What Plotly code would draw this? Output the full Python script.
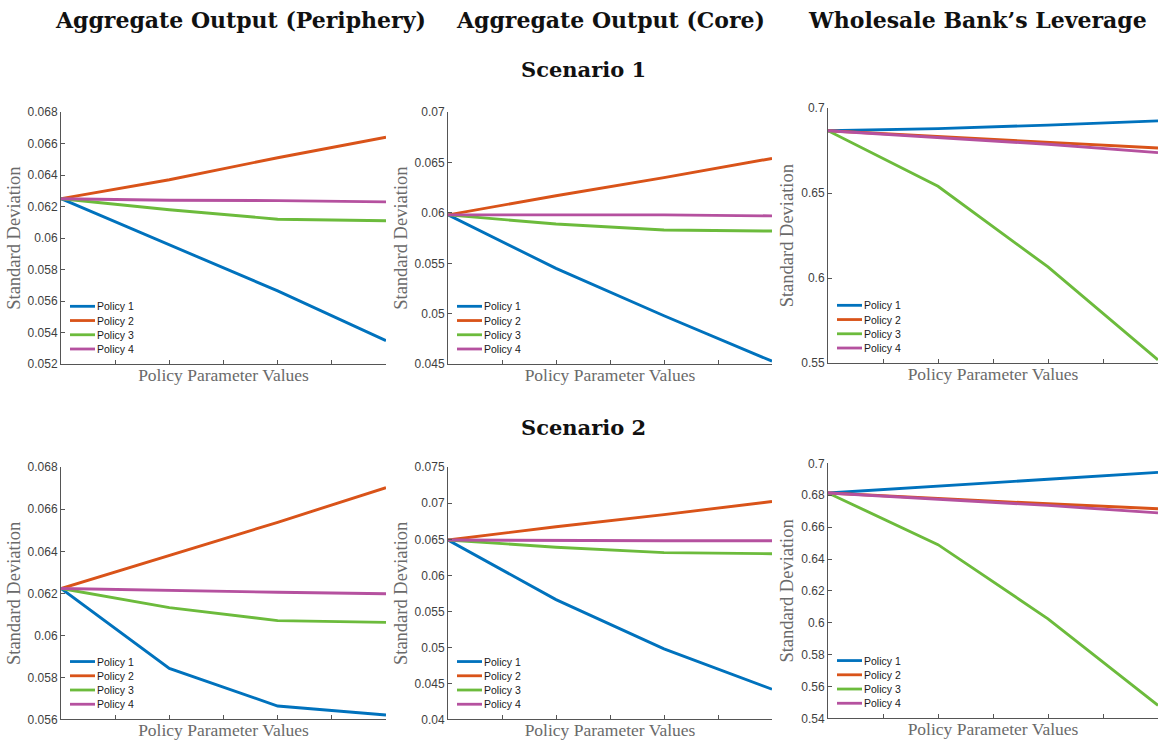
import plotly.graph_objects as go

# Policy parameter grid (four evaluated parameter values per policy)
param_values = [1, 2, 3, 4]
x_tick_positions = [1, 1.5, 2, 2.5, 3, 3.5, 4]

policy_names = ["Policy 1", "Policy 2", "Policy 3", "Policy 4"]
policy_colors = ["#0072BD", "#D95319", "#6CBB3C", "#B5519F"]

column_titles = ["Aggregate Output (Periphery)", "Aggregate Output (Core)", "Wholesale Bank\u2019s Leverage"]
row_titles = ["Scenario 1", "Scenario 2"]

# Scenario 1 — standard deviations
s1_periphery_p1 = [0.0625, 0.0596, 0.05665, 0.0535]
s1_periphery_p2 = [0.0625, 0.0637, 0.0651, 0.0664]
s1_periphery_p3 = [0.0625, 0.0618, 0.0612, 0.0611]
s1_periphery_p4 = [0.0625, 0.0624, 0.06238, 0.0623]

s1_core_p1 = [0.0598, 0.0545, 0.0498, 0.0453]
s1_core_p2 = [0.0598, 0.0617, 0.0635, 0.0654]
s1_core_p3 = [0.0598, 0.0589, 0.0583, 0.0582]
s1_core_p4 = [0.0598, 0.0598, 0.0598, 0.0597]

s1_leverage_p1 = [0.6867, 0.6879, 0.6900, 0.6925]
s1_leverage_p2 = [0.6867, 0.6833, 0.6798, 0.6765]
s1_leverage_p3 = [0.6867, 0.6540, 0.6066, 0.5520]
s1_leverage_p4 = [0.6867, 0.6827, 0.6787, 0.6738]

# Scenario 2 — standard deviations
s2_periphery_p1 = [0.06223, 0.05843, 0.05664, 0.05621]
s2_periphery_p2 = [0.06223, 0.06379, 0.06538, 0.06703]
s2_periphery_p3 = [0.06223, 0.06132, 0.06070, 0.06062]
s2_periphery_p4 = [0.06223, 0.06213, 0.06205, 0.06198]

s2_core_p1 = [0.0649, 0.05663, 0.0498, 0.0442]
s2_core_p2 = [0.0649, 0.06674, 0.06842, 0.07025]
s2_core_p3 = [0.0649, 0.0639, 0.06315, 0.0630]
s2_core_p4 = [0.0649, 0.0648, 0.0648, 0.0648]

s2_leverage_p1 = [0.6814, 0.6859, 0.6900, 0.6943]
s2_leverage_p2 = [0.6814, 0.6779, 0.6746, 0.6715]
s2_leverage_p3 = [0.6814, 0.6490, 0.6025, 0.5482]
s2_leverage_p4 = [0.6814, 0.6775, 0.6736, 0.6689]

# Y-axis ticks per panel
s1_periphery_ticks = [0.052, 0.054, 0.056, 0.058, 0.060, 0.062, 0.064, 0.066, 0.068]
s1_periphery_ticklabels = ["0.052", "0.054", "0.056", "0.058", "0.06", "0.062", "0.064", "0.066", "0.068"]
s1_core_ticks = [0.045, 0.050, 0.055, 0.060, 0.065, 0.070]
s1_core_ticklabels = ["0.045", "0.05", "0.055", "0.06", "0.065", "0.07"]
s1_leverage_ticks = [0.55, 0.60, 0.65, 0.70]
s1_leverage_ticklabels = ["0.55", "0.6", "0.65", "0.7"]

s2_periphery_ticks = [0.056, 0.058, 0.060, 0.062, 0.064, 0.066, 0.068]
s2_periphery_ticklabels = ["0.056", "0.058", "0.06", "0.062", "0.064", "0.066", "0.068"]
s2_core_ticks = [0.040, 0.045, 0.050, 0.055, 0.060, 0.065, 0.070, 0.075]
s2_core_ticklabels = ["0.04", "0.045", "0.05", "0.055", "0.06", "0.065", "0.07", "0.075"]
s2_leverage_ticks = [0.54, 0.56, 0.58, 0.60, 0.62, 0.64, 0.66, 0.68, 0.70]
s2_leverage_ticklabels = ["0.54", "0.56", "0.58", "0.6", "0.62", "0.64", "0.66", "0.68", "0.7"]

panels = [
    # (series, ticks, ticklabels)
    ([s1_periphery_p1, s1_periphery_p2, s1_periphery_p3, s1_periphery_p4], s1_periphery_ticks, s1_periphery_ticklabels),
    ([s1_core_p1, s1_core_p2, s1_core_p3, s1_core_p4], s1_core_ticks, s1_core_ticklabels),
    ([s1_leverage_p1, s1_leverage_p2, s1_leverage_p3, s1_leverage_p4], s1_leverage_ticks, s1_leverage_ticklabels),
    ([s2_periphery_p1, s2_periphery_p2, s2_periphery_p3, s2_periphery_p4], s2_periphery_ticks, s2_periphery_ticklabels),
    ([s2_core_p1, s2_core_p2, s2_core_p3, s2_core_p4], s2_core_ticks, s2_core_ticklabels),
    ([s2_leverage_p1, s2_leverage_p2, s2_leverage_p3, s2_leverage_p4], s2_leverage_ticks, s2_leverage_ticklabels),
]

W, H = 1159, 750

# Pixel boxes of each axes area: (left, right) per column, (top, bottom) per row/column
col_px = [(61, 386), (448, 772), (828, 1158)]
row_px = [[(107, 364), (107, 364), (103, 363)],
          [(469, 726), (469, 726), (465, 725)]]

AXIS_COLOR = "#555555"
TICK_FONT = dict(family="Liberation Sans, Arial, sans-serif", size=12, color="#3f3f3f")
LABEL_FONT = dict(family="Liberation Serif, Times New Roman, serif", size=17.5, color="#6a6a6a")
YLABEL_FONT = dict(family="Liberation Serif, Times New Roman, serif", size=18.5, color="#6a6a6a")
TITLE_FONT = dict(family="DejaVu Serif, serif", size=22, color="#111111")
SCEN_FONT = dict(family="DejaVu Serif, serif", size=21, color="#111111")
KEY_FONT = dict(family="Liberation Sans, Arial, sans-serif", size=10.5, color="#1a1a1a")

# Key rows sit at fixed offsets above each panel's bottom edge
key_offsets = [59, 44.5, 30, 15.5]

fig = go.Figure()
layout = dict(
    width=W, height=H,
    margin=dict(l=0, r=0, t=0, b=0),
    paper_bgcolor="white", plot_bgcolor="white",
    showlegend=False,
)
shapes = []
annotations = []

for idx, (series, ticks, ticklabels) in enumerate(panels):
    r, c = divmod(idx, 3)
    n = idx + 1
    xa = "xaxis" if n == 1 else f"xaxis{n}"
    ya = "yaxis" if n == 1 else f"yaxis{n}"
    xref = "x" if n == 1 else f"x{n}"
    yref = "y" if n == 1 else f"y{n}"

    left, right = col_px[c]
    top, bottom = row_px[r][c]

    for name, color, values in zip(policy_names, policy_colors, series):
        fig.add_trace(go.Scatter(
            x=param_values, y=values, mode="lines", name=name,
            line=dict(color=color, width=2.9),
            xaxis=xref, yaxis=yref, hoverinfo="skip",
        ))

    # Per-panel key in the lower-left corner
    for name, color, off in zip(policy_names, policy_colors, key_offsets):
        ky = 1 - (bottom - off) / H
        shapes.append(dict(
            type="line", xref="paper", yref="paper",
            x0=(left + 9) / W, x1=(left + 34) / W, y0=ky, y1=ky,
            line=dict(color=color, width=2.8),
        ))
        annotations.append(dict(
            text=name, x=(left + 34) / W, y=ky, xref="paper", yref="paper",
            xanchor="left", yanchor="middle", showarrow=False, font=KEY_FONT,
        ))

    layout[xa] = dict(
        domain=[left / W, right / W], anchor=yref,
        range=[param_values[0], param_values[-1]],
        tickvals=x_tick_positions, showticklabels=False,
        ticks="inside", ticklen=4, tickcolor=AXIS_COLOR, tickwidth=1,
        showline=True, linecolor=AXIS_COLOR, linewidth=1, mirror=False,
        showgrid=False, zeroline=False,
        title=dict(text="Policy Parameter Values", font=LABEL_FONT, standoff=4),
    )
    layout[ya] = dict(
        domain=[1 - bottom / H, 1 - top / H], anchor=xref,
        range=[ticks[0], ticks[-1]],
        tickvals=ticks, ticktext=ticklabels, tickfont=TICK_FONT,
        ticks="inside", ticklen=4, tickcolor=AXIS_COLOR, tickwidth=1,
        showline=True, linecolor=AXIS_COLOR, linewidth=1, mirror=False,
        showgrid=False, zeroline=False,
        title=dict(text="Standard Deviation", font=YLABEL_FONT, standoff=2),
    )

col_centers = [240, 610, 977]
for text, cx in zip(column_titles, col_centers):
    annotations.append(dict(
        text=f"<b>{text}</b>", x=cx / W, y=1 - 13 / H, xref="paper", yref="paper",
        xanchor="center", yanchor="middle", showarrow=False, font=TITLE_FONT,
    ))
for text, cy in zip(row_titles, [64, 428]):
    annotations.append(dict(
        text=f"<b>{text}</b>", x=583 / W, y=1 - cy / H, xref="paper", yref="paper",
        xanchor="center", yanchor="middle", showarrow=False, font=SCEN_FONT,
    ))
layout["annotations"] = annotations
layout["shapes"] = shapes

fig.update_layout(**layout)
fig.write_html("out.html")
